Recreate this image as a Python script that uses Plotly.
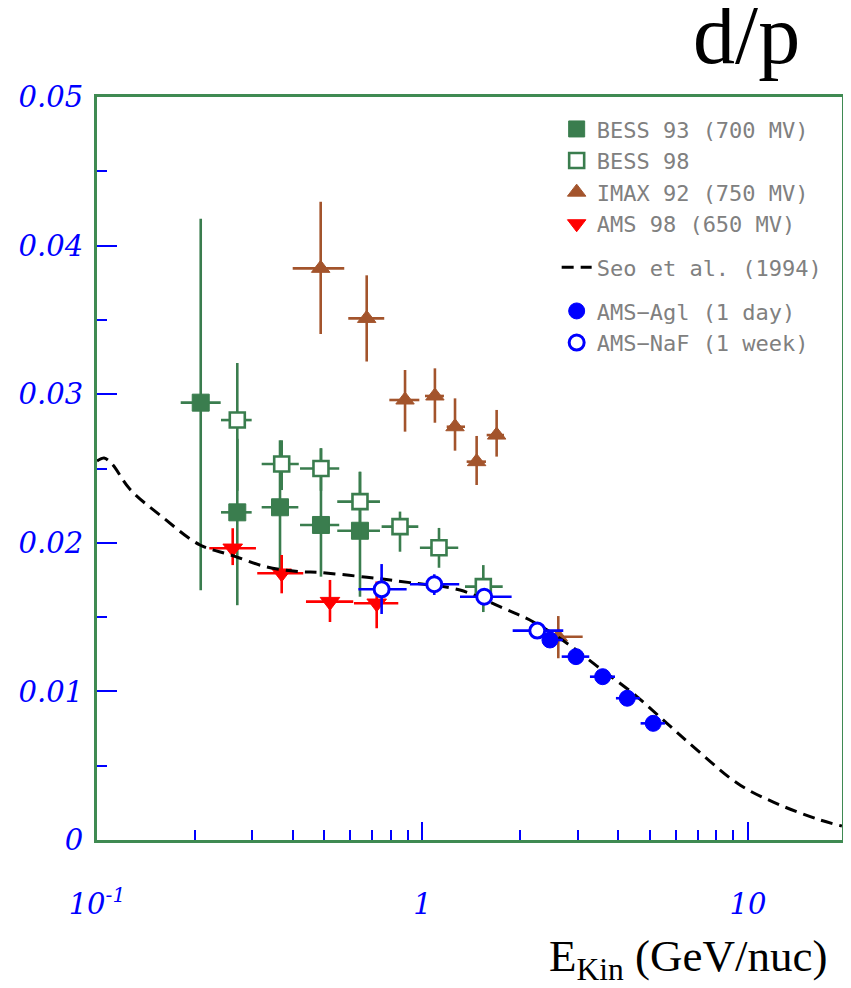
import plotly.graph_objects as go

# ---------------- data ----------------
# BESS 93 (700 MV)
bess93_e = [0.2083, 0.2698, 0.3650, 0.4877, 0.6427]
bess93_elo = [0.1808, 0.2404, 0.3206, 0.4205, 0.5472]
bess93_ehi = [0.2399, 0.2987, 0.4155, 0.5550, 0.7404]
bess93_r = [0.02943, 0.02205, 0.02239, 0.02120, 0.02081]
bess93_rlo = [0.01680, 0.01580, 0.01772, 0.01772, 0.01637]
bess93_rhi = [0.04180, 0.02700, 0.02690, 0.02636, 0.02478]

# BESS 98
bess98_e = [0.2698, 0.3694, 0.4877, 0.6427, 0.853, 1.124, 1.538]
bess98_elo = [0.2404, 0.3206, 0.4205, 0.5472, 0.749, 0.982, 1.351]
bess98_ehi = [0.2987, 0.4168, 0.5550, 0.7404, 0.971, 1.288, 1.764]
bess98_r = [0.02826, 0.02530, 0.02500, 0.02277, 0.02109, 0.01967, 0.01705]
bess98_rlo = [0.02350, 0.02355, 0.02350, 0.02050, 0.01940, 0.01832, 0.01534]
bess98_rhi = [0.03210, 0.02690, 0.02636, 0.02478, 0.02210, 0.02100, 0.01850]

# IMAX 92 (750 MV)
imax_e = [0.4867, 0.674, 0.884, 1.092, 1.259, 1.467, 1.690, 2.614]
imax_elo = [0.3993, 0.5916, 0.791, 1.018, 1.187, 1.367, 1.575, 2.379]
imax_ehi = [0.5750, 0.763, 0.978, 1.164, 1.351, 1.567, 1.780, 3.106]
imax_r = [0.03847, 0.03510, 0.02961, 0.02988, 0.02781, 0.02546, 0.02725, 0.01368]
imax_rlo = [0.03405, 0.03220, 0.02748, 0.02808, 0.02620, 0.02389, 0.02580, 0.01223]
imax_rhi = [0.04295, 0.03800, 0.03163, 0.03174, 0.02972, 0.02719, 0.02894, 0.01507]

# AMS 98 (650 MV)
ams98_e = [0.2612, 0.3694, 0.5198, 0.7233]
ams98_elo = [0.2213, 0.3107, 0.4386, 0.6160]
ams98_ehi = [0.3079, 0.4303, 0.6128, 0.8427]
ams98_r = [0.01963, 0.01795, 0.01604, 0.01593]
ams98_rlo = [0.01850, 0.01660, 0.01467, 0.01425]
ams98_rhi = [0.02098, 0.01918, 0.01750, 0.01740]

# Seo et al. (1994)
seo_e = [0.100, 0.1051, 0.1112, 0.1263, 0.1595, 0.2073, 0.2562, 0.3329, 0.4205,
         0.4843, 0.6754, 0.915, 1.304, 1.730, 2.186, 2.779, 3.510, 4.433, 5.639,
         6.971, 9.45, 12.54, 16.64, 19.44]
seo_r = [0.0255, 0.0257, 0.0253, 0.0236, 0.0217, 0.01985, 0.0192, 0.01837, 0.01806,
         0.0180, 0.01768, 0.01732, 0.01682, 0.0157, 0.01469, 0.01324, 0.01155,
         0.00987, 0.00785, 0.00606, 0.0037, 0.00236, 0.00135, 0.00094]

# AMS-Agl (1 day)
agl_e = [2.464, 2.962, 3.578, 4.258, 5.117]
agl_elo = [2.380, 2.678, 3.270, 3.930, 4.680]
agl_ehi = [2.700, 3.254, 3.904, 4.660, 5.560]
agl_r = [0.01346, 0.01234, 0.01099, 0.00954, 0.00785]
agl_rlo = [0.01320, 0.01208, 0.01073, 0.00928, 0.00759]
agl_rhi = [0.01372, 0.01260, 0.01125, 0.00980, 0.00811]

# AMS-NaF (1 week)
naf_e = [0.749, 1.087, 1.548, 2.253]
naf_elo = [0.6353, 0.915, 1.304, 1.893]
naf_ehi = [0.894, 1.297, 1.879, 2.708]
naf_r = [0.01687, 0.01721, 0.01637, 0.01409]
naf_rlo = [0.01521, 0.01649, 0.01590, 0.01380]
naf_rhi = [0.01857, 0.01788, 0.01684, 0.01438]

x_tickvals = [0.1, 1, 10]
x_ticktext = ["10<sup>-1</sup>", "1", "10"]
x_minor = [0.2, 0.3, 0.4, 0.5, 0.6, 0.7, 0.8, 0.9, 2, 3, 4, 5, 6, 7, 8, 9]
y_tickvals = [0, 0.01, 0.02, 0.03, 0.04, 0.05]
y_ticktext = ["0", "0.01", "0.02", "0.03", "0.04", "0.05"]

# ---------------- styles ----------------
GREEN = "#3a7d4e"
BROWN = "#a3542c"
RED = "#ff0000"
BLUE = "#0000ff"
FRAME = "#3f8a52"


def errs(v, lo, hi):
    return [h - c for c, h in zip(v, hi)], [c - l for c, l in zip(v, lo)]


def series(name, e, elo, ehi, r, rlo, rhi, color, symbol, size, fill, lw, group):
    ex_p, ex_m = errs(e, elo, ehi)
    ey_p, ey_m = errs(r, rlo, rhi)
    return go.Scatter(
        x=e, y=r, mode="markers", name=name, legendgroup=group,
        marker=dict(symbol=symbol, size=size, color=fill,
                    line=dict(color=color, width=lw)),
        error_x=dict(type="data", symmetric=False, array=ex_p, arrayminus=ex_m,
                     color=color, thickness=2.6, width=0),
        error_y=dict(type="data", symmetric=False, array=ey_p, arrayminus=ey_m,
                     color=color, thickness=2.6, width=0),
    )


fig = go.Figure()
fig.add_trace(series("BESS 93 (700 MV)", bess93_e, bess93_elo, bess93_ehi,
                     bess93_r, bess93_rlo, bess93_rhi, GREEN, "square", 17, GREEN, 1, "g1"))
fig.add_trace(series("BESS 98", bess98_e, bess98_elo, bess98_ehi,
                     bess98_r, bess98_rlo, bess98_rhi, GREEN, "square", 15, "white", 2.6, "g1"))
fig.add_trace(series("IMAX 92 (750 MV)", imax_e, imax_elo, imax_ehi,
                     imax_r, imax_rlo, imax_rhi, BROWN, "triangle-up", 16, BROWN, 1, "g1"))
fig.add_trace(series("AMS 98 (650 MV)", ams98_e, ams98_elo, ams98_ehi,
                     ams98_r, ams98_rlo, ams98_rhi, RED, "triangle-down", 17, RED, 1, "g1"))
fig.add_trace(go.Scatter(x=seo_e, y=seo_r, mode="lines", name="Seo et al. (1994)",
                         legendgroup="g2", line=dict(color="black", width=3, dash="12px,7px"),
                         line_shape="spline"))
fig.add_trace(series("AMS\u2212Agl (1 day)", agl_e, agl_elo, agl_ehi,
                     agl_r, agl_rlo, agl_rhi, BLUE, "circle", 16, BLUE, 1, "g3"))
fig.add_trace(series("AMS\u2212NaF (1 week)", naf_e, naf_elo, naf_ehi,
                     naf_r, naf_rlo, naf_rhi, BLUE, "circle", 15, "white", 3, "g3"))

tickfont = dict(family="DejaVu Serif", size=29, color=BLUE, style="italic")

# the page body has an 8px default margin, so the figure is 8px smaller
fig.update_layout(
    width=843, height=980,
    margin=dict(l=89, r=9, t=89, b=148, autoexpand=False),
    paper_bgcolor="white", plot_bgcolor="white",
    showlegend=True,
    legend=dict(x=0.617, y=0.985, xanchor="left", yanchor="top",
                bgcolor="rgba(0,0,0,0)", traceorder="grouped", tracegroupgap=12,
                font=dict(family="DejaVu Sans Mono", size=22, color="#808080")),
    xaxis=dict(type="log", range=[-1, 1.289], showgrid=False, zeroline=False,
               automargin=False,
               showline=True, linecolor=FRAME, linewidth=3, mirror=True,
               tickmode="array", tickvals=x_tickvals, ticktext=x_ticktext,
               ticks="inside", ticklen=18, tickwidth=1.5, tickcolor=BLUE,
               ticklabelstandoff=36, tickfont=tickfont,
               minor=dict(tickmode="array", tickvals=x_minor, ticks="inside",
                          ticklen=10, tickwidth=1.5, tickcolor=BLUE)),
    yaxis=dict(range=[0, 0.05], showgrid=False, zeroline=False,
               automargin=False,
               showline=True, linecolor=FRAME, linewidth=3, mirror=True,
               tickmode="array", tickvals=y_tickvals, ticktext=y_ticktext,
               ticks="inside", ticklen=20, tickwidth=1.5, tickcolor=BLUE,
               ticklabelstandoff=5, tickfont=tickfont,
               minor=dict(dtick=0.005, ticks="inside", ticklen=10, tickwidth=1.5,
                          tickcolor=BLUE)),
    annotations=[
        dict(text="d/p", xref="paper", yref="paper", x=0.872, y=1.084,
             xanchor="center", yanchor="middle", showarrow=False,
             font=dict(family="Liberation Serif", size=84, color="black")),
        dict(text="E<sub>Kin</sub> (GeV/nuc)", xref="paper", yref="paper",
             x=0.983, y=-0.16, xanchor="right", yanchor="middle", showarrow=False,
             font=dict(family="Liberation Serif", size=45, color="black")),
    ],
)

fig.write_html("out.html")
